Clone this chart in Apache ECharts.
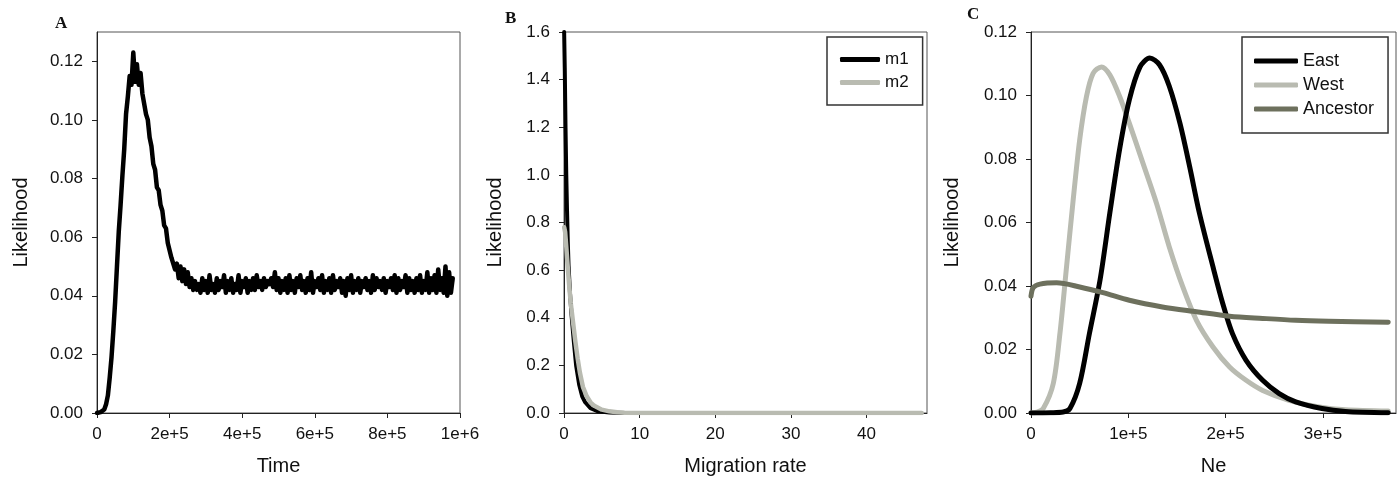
<!DOCTYPE html>
<html>
<head>
<meta charset="utf-8">
<script src="https://cdn.jsdelivr.net/npm/echarts@6/dist/echarts.min.js"></script>
<style>
  html, body { margin: 0; padding: 0; background: #fff; }
  #chart { width: 1399px; height: 486px; }
</style>
</head>
<body>
<div id="chart"></div>
<script>
// Panel A: likelihood over time, sampled every 5000
const timeStep = 5000;
const likelihoodA = [
  0, 0, 0.0003, 0.0005, 0.0012, 0.003, 0.006, 0.012, 0.019, 0.028,
  0.038, 0.050, 0.062, 0.071, 0.081, 0.090, 0.102, 0.108, 0.115, 0.112,
  0.123, 0.113, 0.119, 0.112, 0.116, 0.109, 0.109, 0.102, 0.100, 0.094,
  0.091, 0.085, 0.083, 0.077, 0.076, 0.071, 0.069, 0.064, 0.063, 0.058,
  0.058, 0.053, 0.053, 0.049, 0.051, 0.046, 0.050, 0.045, 0.049, 0.044,
  0.048, 0.043, 0.046, 0.042, 0.045, 0.042,
  0.044, 0.041, 0.046, 0.042, 0.045, 0.041, 0.047, 0.042, 0.044, 0.041,
  0.046, 0.042, 0.045, 0.043, 0.047, 0.041, 0.045, 0.042, 0.046, 0.041,
  0.044, 0.042, 0.047, 0.041, 0.045, 0.043, 0.046, 0.041, 0.045, 0.042,
  0.046, 0.042, 0.047, 0.043, 0.045, 0.042, 0.046, 0.043, 0.045, 0.044,
  0.046, 0.043, 0.048, 0.042, 0.046, 0.041, 0.045, 0.042, 0.046, 0.041,
  0.047, 0.042, 0.045, 0.041, 0.046, 0.043, 0.047, 0.042, 0.045, 0.041,
  0.046, 0.042, 0.048, 0.041, 0.045, 0.043, 0.046, 0.042, 0.047, 0.041,
  0.045, 0.042, 0.046, 0.041, 0.047, 0.042, 0.045, 0.043, 0.046, 0.041,
  0.045, 0.040, 0.046, 0.042, 0.047, 0.041, 0.045, 0.042, 0.046, 0.041,
  0.045, 0.043, 0.046, 0.042, 0.045, 0.041, 0.047, 0.042, 0.046, 0.043,
  0.045, 0.042, 0.046, 0.041, 0.045, 0.043, 0.046, 0.042, 0.047, 0.041,
  0.046, 0.042, 0.045, 0.043, 0.047, 0.041, 0.046, 0.042, 0.045, 0.041,
  0.046, 0.042, 0.047, 0.041, 0.045, 0.042, 0.048, 0.041, 0.046, 0.042,
  0.047, 0.041, 0.049, 0.042, 0.046, 0.041, 0.050, 0.040, 0.048, 0.041, 0.046
];

// Panel B: migration rate
const m1X = [0.02, 0.1, 0.2, 0.3, 0.4, 0.5, 0.6, 0.8, 1.0, 1.3, 1.6, 2.0, 2.4, 2.8, 3.5, 4.5, 6, 8, 20, 47];
const m1Y = [1.6, 1.45, 1.2, 1.0, 0.85, 0.72, 0.62, 0.5, 0.41, 0.3, 0.2, 0.12, 0.07, 0.045, 0.02, 0.007, 0.002, 0, 0, 0];
const m2X = [0.02, 0.15, 0.3, 0.5, 0.7, 0.9, 1.2, 1.5, 1.8, 2.1, 2.5, 3, 3.5, 4, 5, 6, 7, 8, 10, 20, 47.3];
const m2Y = [0.78, 0.76, 0.7, 0.61, 0.53, 0.46, 0.38, 0.3, 0.23, 0.17, 0.11, 0.07, 0.045, 0.03, 0.014, 0.007, 0.003, 0.001, 0, 0, 0];

// Panel C: Ne
const eastX = [0, 20000, 33000, 40000, 50000, 60000, 71000, 81000, 91000, 101000, 112000, 122000, 132000, 142000, 153000, 163000, 173000, 187000, 197000, 207000, 221000, 238000, 255000, 272000, 299000, 323000, 367000];
const eastY = [0, 0.0001, 0.0003, 0.0014, 0.0093, 0.025, 0.042, 0.063, 0.083, 0.0986, 0.109, 0.1118, 0.1097, 0.103, 0.0913, 0.0776, 0.063, 0.046, 0.0345, 0.025, 0.0166, 0.0103, 0.0061, 0.0035, 0.0014, 0.0005, 0.0001];
const westX = [0, 6000, 12600, 22900, 29700, 36500, 43300, 50000, 57000, 63800, 72400, 81000, 91100, 101000, 115000, 129000, 142000, 156000, 170000, 187000, 204000, 221000, 238000, 265000, 296000, 323000, 367000];
const westY = [0, 0.0003, 0.0014, 0.0093, 0.025, 0.046, 0.067, 0.086, 0.0997, 0.107, 0.109, 0.1065, 0.0997, 0.0913, 0.0787, 0.066, 0.0524, 0.0397, 0.0292, 0.0208, 0.0145, 0.0103, 0.0071, 0.004, 0.0019, 0.001, 0.0006];
const ancX = [0, 2400, 9200, 26300, 50000, 74000, 101000, 135000, 170000, 204000, 238000, 272000, 306000, 367000];
const ancY = [0.0368, 0.0395, 0.0406, 0.041, 0.0397, 0.0379, 0.0355, 0.0334, 0.0319, 0.0305, 0.0298, 0.0292, 0.0289, 0.0286];

// tick labels
const ticksAx = [0, 200000, 400000, 600000, 800000, 1000000];
const ticksAy = [0, 0.02, 0.04, 0.06, 0.08, 0.10, 0.12];
const ticksBx = [0, 10, 20, 30, 40];
const ticksBy = [0, 0.2, 0.4, 0.6, 0.8, 1.0, 1.2, 1.4, 1.6];
const ticksCx = [0, 100000, 200000, 300000];
const ticksCy = [0, 0.02, 0.04, 0.06, 0.08, 0.10, 0.12];

const FONT = 'Liberation Sans';
const black = '#000000';
const lightGrey = '#b9bbb1';
const olive = '#6d705d';

const pairs = (xs, ys) => xs.map((x, i) => [x, ys[i]]);
const sci = v => {
  if (v === 0) return '0';
  const e = Math.floor(Math.log10(v) + 1e-9);
  return Math.round(v / Math.pow(10, e)) + 'e+' + e;
};

function xAxis(idx, max, ticks, fmt, name) {
  return {
    type: 'value', gridIndex: idx, min: 0, max: max,
    name: name, nameLocation: 'middle', nameGap: 43,
    nameTextStyle: { fontFamily: FONT, fontSize: 20, color: '#111' },
    axisLine: { show: true, onZero: false, lineStyle: { color: '#222', width: 1 } },
    axisTick: { show: true, inside: false, length: 5, customValues: ticks, lineStyle: { color: '#222' } },
    axisLabel: { customValues: ticks, formatter: fmt, margin: 13, fontFamily: FONT, fontSize: 17, color: '#111' },
    splitLine: { show: false }
  };
}
function yAxis(idx, max, ticks, fmt, gap) {
  return {
    type: 'value', gridIndex: idx, min: 0, max: max,
    name: 'Likelihood', nameLocation: 'middle', nameGap: gap,
    nameTextStyle: { fontFamily: FONT, fontSize: 20, color: '#111' },
    axisLine: { show: true, onZero: false, lineStyle: { color: '#222', width: 1 } },
    axisTick: { show: true, inside: false, length: 5, customValues: ticks, lineStyle: { color: '#222' } },
    axisLabel: { customValues: ticks, formatter: fmt, margin: 14, fontFamily: FONT, fontSize: 17, color: '#111' },
    splitLine: { show: false }
  };
}
const lineSeries = (name, idx, data, color, width, smooth) => ({
  name: name, type: 'line', xAxisIndex: idx, yAxisIndex: idx,
  data: data, showSymbol: false, smooth: smooth,
  lineStyle: { color: color, width: width, cap: 'round', join: 'round' },
  itemStyle: { color: color }
});

const panelTitle = (text, left, top) => ({
  text: text, left: left, top: top, padding: 0,
  textStyle: { fontFamily: 'Liberation Serif', fontWeight: 'bold', fontSize: 17, color: '#111' }
});

const chart = echarts.init(document.getElementById('chart'));
chart.setOption({
  animation: false,
  backgroundColor: '#fff',
  title: [panelTitle('A', 55, 15), panelTitle('B', 505, 10), panelTitle('C', 967, 6)],
  grid: [
    { left: 97, top: 32, width: 363, height: 381, show: true, borderColor: '#555', borderWidth: 1 },
    { left: 564, top: 32, width: 363, height: 381, show: true, borderColor: '#555', borderWidth: 1 },
    { left: 1031, top: 32, width: 365, height: 381, show: true, borderColor: '#555', borderWidth: 1 }
  ],
  xAxis: [
    xAxis(0, 1000000, ticksAx, sci, 'Time'),
    xAxis(1, 48, ticksBx, v => String(v), 'Migration rate'),
    xAxis(2, 375000, ticksCx, sci, 'Ne')
  ],
  yAxis: [
    yAxis(0, 0.13, ticksAy, v => v.toFixed(2), 66),
    yAxis(1, 1.6, ticksBy, v => v.toFixed(1), 59),
    yAxis(2, 0.12, ticksCy, v => v.toFixed(2), 69)
  ],
  legend: [
    {
      data: ['m1', 'm2'], orient: 'vertical', left: 827, top: 37,
      icon: 'roundRect', itemWidth: 40, itemHeight: 5, itemGap: 0,
      padding: [11, 14, 11, 13], borderColor: '#333', borderWidth: 1.5,
      textStyle: { fontFamily: FONT, fontSize: 17, lineHeight: 23, color: '#111' }
    },
    {
      data: ['East', 'West', 'Ancestor'], orient: 'vertical', left: 1242, top: 37,
      icon: 'roundRect', itemWidth: 44, itemHeight: 5, itemGap: 0,
      padding: [12, 14, 12, 12], borderColor: '#333', borderWidth: 1.5,
      textStyle: { fontFamily: FONT, fontSize: 18, lineHeight: 24, color: '#111' }
    }
  ],
  series: [
    lineSeries('A', 0, likelihoodA.map((v, i) => [i * timeStep, v]), black, 4.5, false),
    lineSeries('m1', 1, pairs(m1X, m1Y), black, 4, false),
    lineSeries('m2', 1, pairs(m2X, m2Y), lightGrey, 4.5, false),
    lineSeries('West', 2, pairs(westX, westY), lightGrey, 5, 0.3),
    lineSeries('East', 2, pairs(eastX, eastY), black, 5, 0.3),
    lineSeries('Ancestor', 2, pairs(ancX, ancY), olive, 5, 0.3)
  ]
});
</script>
</body>
</html>
